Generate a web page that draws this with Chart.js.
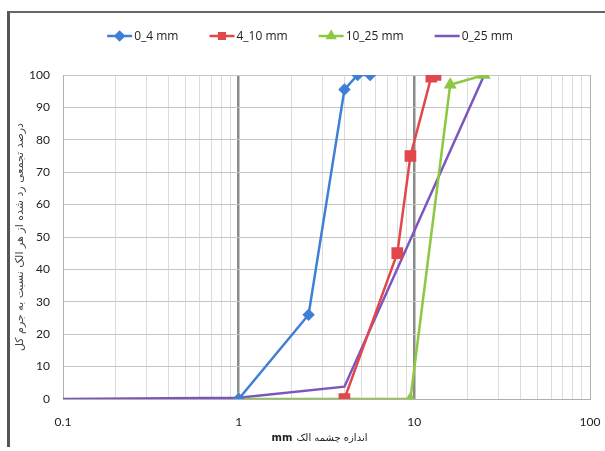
<!DOCTYPE html>
<html>
<head>
<meta charset="utf-8">
<script src="https://cdn.jsdelivr.net/npm/chart.js@4/dist/chart.umd.min.js"></script>
<style>
  html, body { margin: 0; padding: 0; background: #fff; }
  #wrap { position: relative; width: 605px; height: 451px; overflow: hidden; }
  #frame { position: absolute; left: 7px; top: 11px; right: -2px; bottom: 4px;
           border-left: 3px solid #555; border-top: 2px solid #666; }
  canvas { position: absolute; left: 0; top: 0; }
</style>
</head>
<body>
<div id="wrap">
  <div id="frame"></div>
  <canvas id="c" width="605" height="451"></canvas>
</div>
<script>
// Sieve sizes (mm) and cumulative passing (%) for each gradation
const sizes_0_4   = [1, 2.5, 4, 4.75, 5.6];
const pass_0_4    = [0, 26, 95.5, 100, 100];

const sizes_4_10  = [4, 8, 9.5, 12.5, 13.2];
const pass_4_10   = [0, 45, 75, 99.5, 100];

const sizes_10_25 = [1, 9.5, 16, 25];
const pass_10_25  = [0, 0, 97, 100];

const sizes_0_25  = [0.1, 1, 4, 25];
const pass_0_25   = [0, 0.4, 3.8, 100];

const seriesNames = ['0_4 mm', '4_10 mm', '10_25 mm', '0_25 mm'];
const xTickLabels = ['0.1', '1', '10', '100'];
const yTitle = 'درصد تجمعی رد شده از هر الک نسبت به جرم کل';
const xTitleFa = 'اندازه چشمه الک';
const xTitleUnit = 'mm';

const toPoints = (xs, ys) => xs.map((x, i) => ({ x: x, y: ys[i] }));
const isDecade = v => Math.abs(Math.log10(v) - Math.round(Math.log10(v))) < 1e-9;

const FONT = 'Lato, "Liberation Sans", sans-serif';

const datasets = [
  { label: seriesNames[0], data: toPoints(sizes_0_4, pass_0_4),
    borderColor: '#3f80d6', backgroundColor: '#3f80d6',
    pointStyle: 'rectRot', pointRadius: 4.5 },
  { label: seriesNames[1], data: toPoints(sizes_4_10, pass_4_10),
    borderColor: '#e2474b', backgroundColor: '#e2474b',
    pointStyle: 'rect', pointRadius: 6.5 },
  { label: seriesNames[2], data: toPoints(sizes_10_25, pass_10_25),
    borderColor: '#8cc842', backgroundColor: '#8cc842',
    pointStyle: 'triangle', pointRadius: 5 },
  { label: seriesNames[3], data: toPoints(sizes_0_25, pass_0_25),
    borderColor: '#7c56bf', backgroundColor: '#7c56bf',
    pointStyle: 'crossRot', pointBorderWidth: 1.5,
    pointRadius: ctx => (ctx.dataIndex === sizes_0_25.length - 1 ? 4 : 0) }
].map(d => Object.assign({ showLine: true, borderWidth: 2.5, fill: false, tension: 0 }, d));

// Legend in a single centred row: short line with the series marker, then the name
const lineLegend = {
  id: 'lineLegend',
  afterDraw(chart) {
    const ctx = chart.ctx;
    const y = 36, lineLen = 25, gap = 2, spacing = 31;
    ctx.save();
    ctx.font = '12px "Open Sans", sans-serif';
    const widths = chart.data.datasets.map(d => lineLen + gap + ctx.measureText(d.label).width);
    const total = widths.reduce((a, b) => a + b, 0) + spacing * (widths.length - 1);
    let x = 310 - total / 2;
    chart.data.datasets.forEach((d, i) => {
      ctx.strokeStyle = d.borderColor;
      ctx.lineWidth = 2.5;
      ctx.beginPath();
      ctx.moveTo(x, y);
      ctx.lineTo(x + lineLen, y);
      ctx.stroke();
      if (i < 3) {
        ctx.fillStyle = d.backgroundColor;
        Chart.helpers.drawPoint(ctx, {
          pointStyle: d.pointStyle, radius: Math.min(d.pointRadius, 4),
          rotation: 0, borderWidth: 1
        }, x + lineLen / 2, y);
      }
      ctx.fillStyle = '#222';
      ctx.textBaseline = 'middle';
      ctx.textAlign = 'left';
      ctx.fillText(d.label, x + lineLen + gap, y + 0.5);
      x += widths[i] + spacing;
    });
    ctx.restore();
  }
};

// Horizontal axis title: Persian words with the unit in bold on the left
const xAxisTitle = {
  id: 'xAxisTitle',
  afterDraw(chart) {
    const ctx = chart.ctx;
    const area = chart.chartArea;
    const cx = (area.left + area.right) / 2 - 7, y = 438;
    ctx.save();
    ctx.textBaseline = 'middle';
    ctx.fillStyle = '#222';
    ctx.direction = 'rtl';
    ctx.font = '10px "DejaVu Sans", sans-serif';
    const wFa = ctx.measureText(xTitleFa).width;
    ctx.font = 'bold 10px "DejaVu Sans", sans-serif';
    const wUnit = ctx.measureText(xTitleUnit).width;
    const sep = 4;
    const left = cx - (wFa + wUnit + sep) / 2;
    ctx.direction = 'ltr';
    ctx.textAlign = 'left';
    ctx.fillText(xTitleUnit, left, y);
    ctx.font = '10px "DejaVu Sans", sans-serif';
    ctx.direction = 'rtl';
    ctx.textAlign = 'right';
    ctx.fillText(xTitleFa, left + wUnit + sep + wFa, y);
    ctx.restore();
  }
};

new Chart(document.getElementById('c'), {
  type: 'scatter',
  data: { datasets: datasets },
  plugins: [lineLegend, xAxisTitle],
  options: {
    responsive: false,
    animation: false,
    layout: { padding: { left: 0, top: 75, right: 15, bottom: 0 } },
    plugins: { legend: { display: false }, tooltip: { enabled: false } },
    scales: {
      x: {
        type: 'logarithmic',
        min: 0.1, max: 100,
        afterFit(scale) {
          scale.height = 52;
          scale.paddingLeft = 0;
          scale.paddingRight = 0;
        },
        afterBuildTicks(scale) {
          const ticks = [];
          [0.1, 1, 10].forEach(d => { for (let k = 1; k <= 9; k++) ticks.push({ value: k * d }); });
          ticks.push({ value: 100 });
          scale.ticks = ticks;
        },
        ticks: {
          autoSkip: false, maxRotation: 0, padding: 16,
          color: '#222', font: { family: FONT, size: 12 },
          callback(value) {
            if (!isDecade(value)) return '';
            return xTickLabels[Math.round(Math.log10(value)) + 1];
          }
        },
        grid: {
          drawTicks: false,
          color: ctx => {
            const v = ctx.tick.value;
            if (Math.abs(v - 1) < 1e-9 || Math.abs(v - 10) < 1e-9) return '#8a8a8a';
            if (isDecade(v)) return '#b0b0b0';
            return '#dcdcdc';
          },
          lineWidth: ctx => {
            const v = ctx.tick.value;
            return (Math.abs(v - 1) < 1e-9 || Math.abs(v - 10) < 1e-9) ? 2.5 : 1;
          }
        },
        border: { display: true, color: '#b0b0b0' }
      },
      y: {
        min: 0, max: 100,
        afterFit(scale) { scale.width = 63; },
        ticks: { stepSize: 10, padding: 13, color: '#222', font: { family: FONT, size: 12 } },
        grid: { drawTicks: false, color: '#c6c6c6', lineWidth: 1 },
        border: { display: true, color: '#b0b0b0' },
        title: {
          display: true, text: yTitle, color: '#444',
          font: { family: '"DejaVu Sans", sans-serif', size: 11 },
          padding: { top: 14, bottom: 0 }
        }
      }
    }
  }
});
</script>
</body>
</html>
